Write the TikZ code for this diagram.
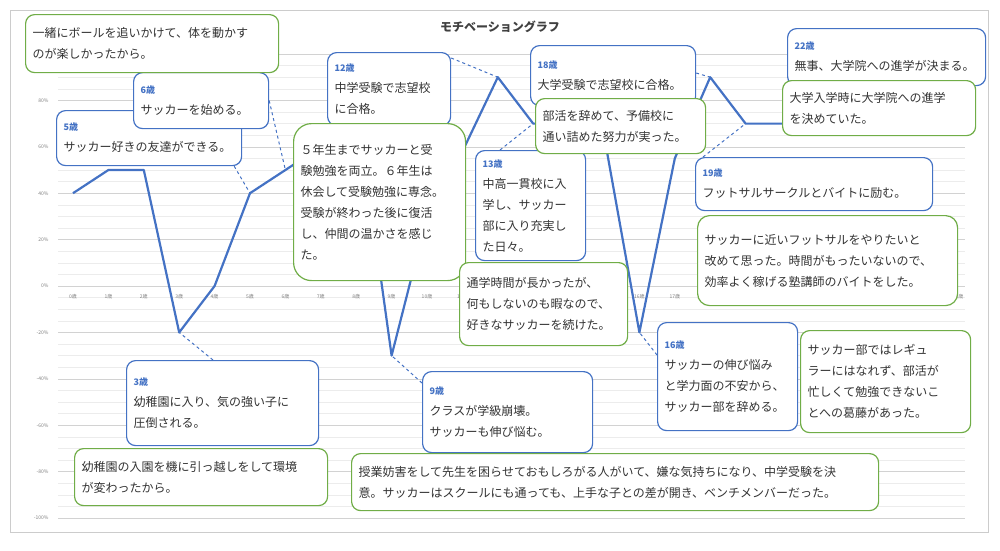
\documentclass[tikz,border=0pt]{standalone}
\usepackage{fontspec}
\setmainfont{Noto Sans CJK JP}
\definecolor{cblue}{HTML}{4472C4}
\definecolor{cgreen}{HTML}{70AD47}
\definecolor{ctext}{HTML}{333333}
\begin{document}
\begin{tikzpicture}[x=1pt,y=-1pt,
  bb/.style={draw=cblue, line width=1.2pt, rounded corners=9pt, fill=white, anchor=north west, inner sep=7pt, font=\fontsize{12}{21}\selectfont, text=ctext, align=left},
  gb/.style={bb, draw=cgreen},
  conn/.style={dashed, draw=cblue, line width=1pt},
  tick/.style={font=\fontsize{5}{6}\selectfont, text=gray}]
\newcommand\ag[1]{\textcolor{cblue}{\bfseries\fontsize{9}{12}\selectfont #1}}
\useasboundingbox (0,0) rectangle (1000,550);
\draw[gray!40, line width=0.8pt] (10,10) rectangle (988,532);
\foreach \v in {-100,-95,...,100}{\draw[gray!15,line width=0.5pt] (58,{286-2.32*\v}) -- (965,{286-2.32*\v});}
\foreach \v in {-100,-80,...,80}{\draw[gray!35,line width=0.6pt] (58,{286-2.32*\v}) -- (965,{286-2.32*\v});
  \node[tick,anchor=east] at (52,{286-2.32*\v}) {\v\%};}
\draw[gray!35,line width=0.6pt] (58,54) -- (965,54);
\foreach \i in {0,...,25}{\node[tick] at ({73+35.4*\i},297) {\i 歳};}
\node[font=\bfseries\fontsize{12}{14}\selectfont, text=black!75] (title) at (500,27) {モチベーショングラフ};
\foreach \i/\v in {0/40,1/50,2/50,3/-20,4/0,5/40,6/50,7/60,8/80,9/-30,10/30,11/58,12/90,13/70,14/70,15/65,16/-20,17/55,18/90,19/70,20/70,21/70,22/70}{
  \coordinate (p\i) at ({73+35.4*\i},{286-2.32*\v});}
\draw[line width=2.2pt, draw=cblue, line join=round] (p0)
 \foreach \i in {1,...,22}{ -- (p\i)};
% boxes
\node[bb, text width=171pt, minimum height=55pt] (b5) at (56,110) {\ag{5歳}\\サッカー好きの友達ができる。};
\node[bb, text width=121pt, minimum height=56pt] (b6) at (133,72) {\ag{6歳}\\サッカーを始める。};
\node[gb, text width=239pt, minimum height=58pt] (b1) at (25,14) {一緒にボールを追いかけて、体を動かす\\のが楽しかったから。};
\node[bb, text width=109pt, minimum height=73pt] (b12) at (327,52) {\ag{12歳}\\中学受験で志望校\\に合格。};
\node[gb, text width=158pt, minimum height=157pt, rounded corners=18pt] (b5y) at (293,123) {５年生までサッカーと受\\験勉強を両立。６年生は\\休会して受験勉強に専念。\\受験が終わった後に復活\\し、仲間の温かさを感じ\\た。};
\node[bb, text width=96pt, minimum height=110pt] (b13) at (475,150) {\ag{13歳}\\中高一貫校に入\\学し、サッカー\\部に入り充実し\\た日々。};
\node[gb, text width=154pt, minimum height=83pt] (b13r) at (459,262) {通学時間が長かったが、\\何もしないのも暇なので、\\好きなサッカーを続けた。};
\node[bb, text width=151pt, minimum height=60pt] (b18) at (530,45) {\ag{18歳}\\大学受験で志望校に合格。};
\node[gb, text width=156pt, minimum height=55pt] (b18r) at (535,98) {部活を辞めて、予備校に\\通い詰めた努力が実った。};
\node[bb, text width=184pt, minimum height=57pt] (b22) at (787,28) {\ag{22歳}\\無事、大学院への進学が決まる。};
\node[gb, text width=179pt, minimum height=55pt] (b22r) at (782,80) {大学入学時に大学院への進学\\を決めていた。};
\node[bb, text width=223pt, minimum height=53pt] (b19) at (695,157) {\ag{19歳}\\フットサルサークルとバイトに励む。};
\node[gb, text width=246pt, minimum height=90pt, rounded corners=12pt] (b19r) at (697,215) {サッカーに近いフットサルをやりたいと\\改めて思った。時間がもったいないので、\\効率よく稼げる塾講師のバイトをした。};
\node[bb, text width=126pt, minimum height=108pt] (b16) at (657,322) {\ag{16歳}\\サッカーの伸び悩み\\と学力面の不安から、\\サッカー部を辞める。};
\node[gb, text width=156pt, minimum height=102pt] (b16r) at (800,330) {サッカー部ではレギュ\\ラーにはなれず、部活が\\忙しくて勉強できないこ\\とへの葛藤があった。};
\node[bb, text width=178pt, minimum height=85pt] (b3) at (126,360) {\ag{3歳}\\幼稚園に入り、気の強い子に\\圧倒される。};
\node[gb, text width=239pt, minimum height=57pt] (b3r) at (74,448) {幼稚園の入園を機に引っ越しをして環境\\が変わったから。};
\node[bb, text width=156pt, minimum height=81pt] (b9) at (422,371) {\ag{9歳}\\クラスが学級崩壊。\\サッカーも伸び悩む。};
\node[gb, text width=513pt, minimum height=57pt] (b9r) at (351,453) {授業妨害をして先生を困らせておもしろがる人がいて、嫌な気持ちになり、中学受験を決\\意。サッカーはスクールにも通っても、上手な子との差が開き、ベンチメンバーだった。};
% connectors
\draw[conn] ([xshift=-8pt]b5.south east) -- (p5);
\draw[conn] (b6.east) -- (p6);
\draw[conn] ([yshift=-6pt]b12.north east) -- (p12);
\draw[conn] ([xshift=25pt]b13.north west) -- (p13);
\draw[conn] ([yshift=-28pt]b18.north east) -- (p18);
\draw[conn] ([xshift=8pt]b19.north west) -- (p19);
\draw[conn] ([xshift=87pt]b3.north west) -- (p3);
\draw[conn] ([yshift=-12pt]b9.north west) -- (p9);
\draw[conn] ([yshift=-33pt]b16.north west) -- (p16);
\end{tikzpicture}
\end{document}
